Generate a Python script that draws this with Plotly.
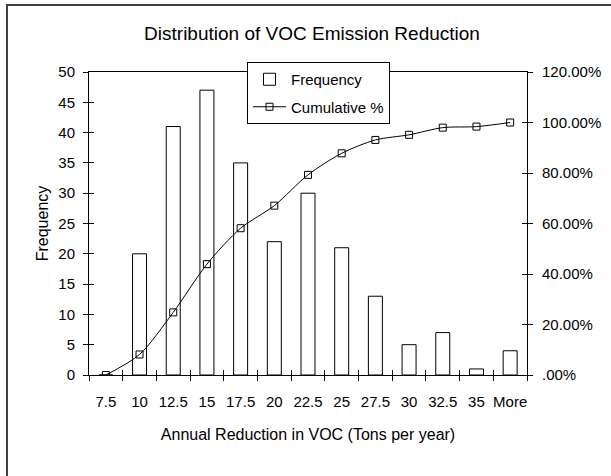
import plotly.graph_objects as go

categories = ["7.5", "10", "12.5", "15", "17.5", "20", "22.5", "25", "27.5", "30", "32.5", "35", "More"]
frequency = [0, 20, 41, 47, 35, 22, 30, 21, 13, 5, 7, 1, 4]
cumulative_pct = [0.0, 0.0813, 0.2480, 0.4390, 0.5813, 0.6707, 0.7927, 0.8780, 0.9309, 0.9512, 0.9797, 0.9837, 1.0]
left_ticks = [0, 5, 10, 15, 20, 25, 30, 35, 40, 45, 50]
right_tickvals = [0, 0.2, 0.4, 0.6, 0.8, 1.0, 1.2]
right_ticktext = [".00%", "20.00%", "40.00%", "60.00%", "80.00%", "100.00%", "120.00%"]

FONT = "Arial, Liberation Sans, sans-serif"
W, H = 611, 476
L, R, T, B = 89, 527, 72, 375  # plot area pixel box
pw, ph = R - L, B - T

def px_x(p):
    return (p - L) / pw

def px_y(p):
    return (B - p) / ph

fig = go.Figure()
fig.add_trace(go.Bar(
    x=categories, y=frequency, name="Frequency", legendgroup="a",
    marker=dict(color="white", line=dict(color="black", width=1)),
    xaxis="x", yaxis="y",
))
fig.add_trace(go.Scatter(
    x=categories, y=cumulative_pct, name="Cumulative %", legendgroup="b",
    mode="lines+markers", line=dict(color="black", width=1, shape="spline", smoothing=0.8),
    marker=dict(symbol="square-open", size=7, color="black", line=dict(width=1)),
    xaxis="x", yaxis="y2",
))
# invisible anchors for the inside-tick overlay axes
fig.add_trace(go.Scatter(x=[None], y=[None], xaxis="x3", yaxis="y3", showlegend=False, hoverinfo="skip"))
fig.add_trace(go.Scatter(x=[None], y=[None], xaxis="x3", yaxis="y4", showlegend=False, hoverinfo="skip"))

ac = dict(showgrid=False, zeroline=False, color="black", automargin=False)

fig.update_layout(
    width=W, height=H,
    margin=dict(l=L, r=W - R, t=T, b=H - B, pad=0),
    paper_bgcolor="white", plot_bgcolor="white",
    font=dict(family=FONT, size=15, color="black"),
    bargap=0.585,
    showlegend=True,
    hovermode=False,
    title=dict(text="Distribution of VOC Emission Reduction", x=312 / W, xref="container",
               y=1 - 33 / H, yref="container", xanchor="center", yanchor="middle",
               font=dict(size=19, family=FONT, color="black")),
    xaxis=dict(**ac, type="category", categoryorder="array", categoryarray=categories,
               range=[-0.5, 12.5], showline=True, linecolor="black", linewidth=1, mirror=True,
               ticks="outside", ticklen=5, tickcolor="black", tickson="boundaries",
               tickangle=0, ticklabelstandoff=13,
               title=dict(text="Annual Reduction in VOC (Tons per year)", standoff=19,
                          font=dict(size=16)),
               tickfont=dict(size=15)),
    xaxis3=dict(**ac, overlaying="x", type="linear", range=[-0.5, 12.5],
                tick0=-0.5, dtick=1, ticks="inside", ticklen=5, tickcolor="black",
                showticklabels=False, showline=False),
    yaxis=dict(**ac, range=[0, 50], tickvals=left_ticks, showline=True,
               linecolor="black", linewidth=1, ticks="outside", ticklen=5, tickcolor="black",
               ticklabelstandoff=5,
               title=dict(text="Frequency", standoff=5, font=dict(size=16)),
               tickfont=dict(size=15)),
    yaxis3=dict(**ac, overlaying="y", range=[0, 50], tickvals=left_ticks,
                ticks="inside", ticklen=5, tickcolor="black", showticklabels=False,
                showline=False),
    yaxis2=dict(**ac, overlaying="y", side="right", range=[0, 1.2],
                tickvals=right_tickvals, ticktext=right_ticktext, showline=True,
                linecolor="black", linewidth=1, ticks="outside", ticklen=5, tickcolor="black",
                ticklabelstandoff=6, tickfont=dict(size=15)),
    yaxis4=dict(**ac, overlaying="y", side="right", range=[0, 1.2],
                tickvals=right_tickvals, ticks="inside", ticklen=5, tickcolor="black",
                showticklabels=False, showline=False),
    legend=dict(x=px_x(247), y=px_y(62), xanchor="left", yanchor="top",
                bgcolor="white", bordercolor="black", borderwidth=1,
                font=dict(size=15, family=FONT), itemwidth=33,
                traceorder="grouped", tracegroupgap=5),
    shapes=[dict(type="rect", xref="paper", yref="paper",
                 x0=px_x(7), x1=px_x(640), y0=px_y(500), y1=px_y(5),
                 line=dict(color="#404040", width=2), fillcolor="rgba(0,0,0,0)", layer="below")],
)

fig.write_html("out.html", config={"displayModeBar": False},
               post_script="document.body.style.margin='0px';")
